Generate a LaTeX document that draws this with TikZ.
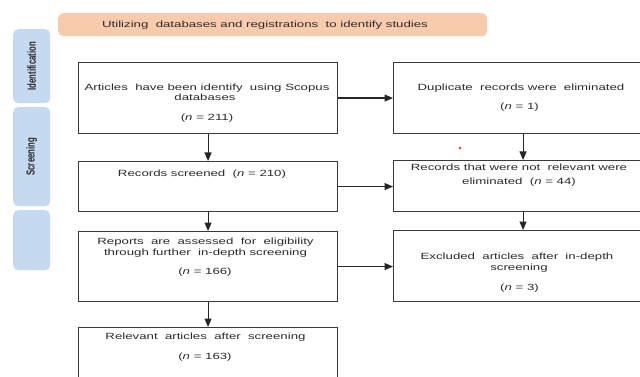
\documentclass[tikz,border=0pt]{standalone}
\usepackage{fontspec}
\usepackage{graphicx}
\setmainfont{Liberation Sans}
\usetikzlibrary{arrows.meta}
\definecolor{bannerorange}{HTML}{F8CBAD}
\definecolor{sideblue}{HTML}{C5D9F1}
\definecolor{boxline}{HTML}{3A3A3A}
\definecolor{txtgray}{HTML}{2B2B2B}
\newcommand{\wtxt}[1]{\scalebox{1.47}[1]{#1}}
\newcommand{\sidetxt}[1]{\scalebox{1}[1.5]{\bfseries\fontsize{7.8}{8}\selectfont #1}}
\tikzset{
  box/.style={draw=boxline, line width=1.1pt, anchor=north west, inner sep=0pt},
  banner/.style={fill=bannerorange, draw=none, rounded corners=5pt},
  sidebox/.style={fill=sideblue, draw=none, rounded corners=5pt},
  ln/.style={anchor=base, inner sep=0pt, text=txtgray, font=\fontsize{9}{10.5}\selectfont},
  sidelbl/.style={rotate=90, inner sep=0pt, text=black!85},
  arr/.style={line width=1.1pt, draw=black!85, -{Triangle[length=8.5pt,width=7pt]}}
}
\begin{document}
\begin{tikzpicture}[x=1pt,y=-1pt]
\clip (0,0) rectangle (640,377);
\fill[white] (0,0) rectangle (640,377);
% banner and side boxes
\node[banner, minimum width=429pt, minimum height=23pt, anchor=north west] (ban) at (58,13) {};
\node[ln] (bant) at (265,27.5) {\wtxt{Utilizing\ \ databases and registrations\ \ to identify studies}};
\node[sidebox, minimum width=37pt, minimum height=74pt, anchor=north west] (s1) at (13,29) {};
\node[sidebox, minimum width=37pt, minimum height=99pt, anchor=north west] (s2) at (13,107) {};
\node[sidebox, minimum width=37pt, minimum height=60pt, anchor=north west] (s3) at (13,210) {};
\node[sidelbl] (s1t) at (s1.center) {\sidetxt{Identification}};
\node[sidelbl] (s2t) at (s2.center) {\sidetxt{Screening}};
% boxes
\node[box, minimum width=259pt, minimum height=71pt] (A) at (78,62) {};
\node[box, minimum width=259pt, minimum height=71pt] (D) at (393,62) {};
\node[box, minimum width=259pt, minimum height=50pt] (R) at (78,161) {};
\node[box, minimum width=259pt, minimum height=51pt] (N) at (393,160) {};
\node[box, minimum width=259pt, minimum height=70pt] (P) at (78,231) {};
\node[box, minimum width=259pt, minimum height=71pt] (E) at (393,230) {};
\node[box, minimum width=259pt, minimum height=70pt] (V) at (78,327) {};
% texts
\node[ln] (A1) at (207,90.5) {\wtxt{Articles\ \ have been identify\ \ using Scopus}};
\node[ln] (A2) at (205,101) {\wtxt{databases}};
\node[ln] (A3) at (207,120.5) {\wtxt{(\textit{n} = 211)}};
\node[ln] (D1) at (521,90.5) {\wtxt{Duplicate\ \ records were\ \ eliminated}};
\node[ln] (D2) at (519.5,110) {\wtxt{(\textit{n} = 1)}};
\node[ln] (R1) at (202,177) {\wtxt{Records screened\ \ (\textit{n} = 210)}};
\node[ln] (N1) at (519,171) {\wtxt{Records that were not\ \ relevant were}};
\node[ln] (N2) at (519,184) {\wtxt{eliminated\ \ (\textit{n} = 44)}};
\node[ln] (P1) at (205.5,244.5) {\wtxt{Reports\ \ are\ \ assessed\ \ for\ \ eligibility}};
\node[ln] (P2) at (205.5,255) {\wtxt{through further\ \ in-depth screening}};
\node[ln] (P3) at (205,274.5) {\wtxt{(\textit{n} = 166)}};
\node[ln] (E1) at (517,259) {\wtxt{Excluded\ \ articles\ \ after\ \ in-depth}};
\node[ln] (E2) at (519,270) {\wtxt{screening}};
\node[ln] (E3) at (519.5,290) {\wtxt{(\textit{n} = 3)}};
\node[ln] (V1) at (205.5,339.5) {\wtxt{Relevant\ \ articles\ \ after\ \ screening}};
\node[ln] (V2) at (205,359) {\wtxt{(\textit{n} = 163)}};
% connectors
\draw[arr] (A.east) -- (D.west);
\draw[arr] (R.east) -- (R.east -| N.west);
\draw[arr] (P.east) -- (P.east -| E.west);
\draw[arr] (A.south) -- (R.north);
\draw[arr] (D.south) -- (N.north);
\draw[arr] (R.south) -- (P.north);
\draw[arr] (N.south) -- (E.north);
\draw[arr] (P.south) -- (V.north);
% stray red mark
\fill[red!85] (460,148) circle (1.4pt);
\end{tikzpicture}
\end{document}
